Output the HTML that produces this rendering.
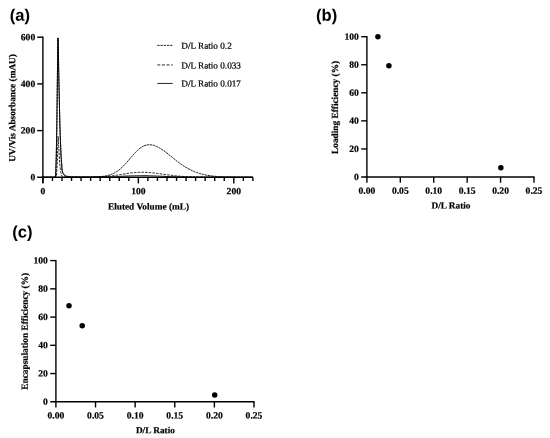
<!DOCTYPE html>
<html lang="en"><head><meta charset="utf-8"><title>Figure</title>
<style>
html,body{margin:0;padding:0;background:#fff;}
body{width:550px;height:438px;overflow:hidden;}
svg{display:block;will-change:transform;}
.ax path{stroke:#000;stroke-width:1.4;fill:none;}
.tk{font-family:"Liberation Serif",serif;font-weight:bold;font-size:9.6px;fill:#000;stroke:#000;stroke-width:0.2px;}
.lb{font-family:"Liberation Serif",serif;font-weight:bold;font-size:9.3px;fill:#000;stroke:#000;stroke-width:0.2px;}
.lg{font-family:"Liberation Serif",serif;font-size:9.2px;fill:#000;stroke:#000;stroke-width:0.22px;}
.pn{font-family:"Liberation Sans",sans-serif;font-weight:bold;font-size:16.6px;fill:#000;}
.cv path{stroke:#000;fill:none;stroke-width:1.05;stroke-linejoin:round;}
.lgl path{stroke-width:0.85;}
</style></head><body>
<svg width="550" height="438" viewBox="0 0 550 438">
<rect width="550" height="438" fill="#fff"/>
<!-- panel labels -->
<text class="pn" x="9.8" y="20.8" transform="rotate(0.03 9.8 20.8)">(a)</text>
<text class="pn" x="316" y="20.7" transform="rotate(0.03 316 20.7)">(b)</text>
<text class="pn" x="12.3" y="237.6" transform="rotate(0.03 12.3 237.6)">(c)</text>

<!-- panel a -->
<g class="ax">
<path d="M42.9,36.600000000000016 V183.0" />
<path d="M37.199999999999996,177.3 H252.89000000000001" />
<path d="M37.199999999999996,130.60 H42.9" />
<path d="M37.199999999999996,83.90 H42.9" />
<path d="M37.199999999999996,37.20 H42.9" />
<path d="M42.90,177.3 v6.1" />
<path d="M52.45,177.3 v3.6" />
<path d="M61.99,177.3 v3.6" />
<path d="M71.53,177.3 v3.6" />
<path d="M81.08,177.3 v3.6" />
<path d="M90.62,177.3 v3.6" />
<path d="M100.17,177.3 v3.6" />
<path d="M109.72,177.3 v3.6" />
<path d="M119.26,177.3 v3.6" />
<path d="M128.81,177.3 v3.6" />
<path d="M138.35,177.3 v6.1" />
<path d="M147.90,177.3 v3.6" />
<path d="M157.44,177.3 v3.6" />
<path d="M166.99,177.3 v3.6" />
<path d="M176.53,177.3 v3.6" />
<path d="M186.08,177.3 v3.6" />
<path d="M195.62,177.3 v3.6" />
<path d="M205.17,177.3 v3.6" />
<path d="M214.71,177.3 v3.6" />
<path d="M224.25,177.3 v3.6" />
<path d="M233.80,177.3 v6.1" />
<path d="M243.34,177.3 v3.6" />
<path d="M252.89,177.3 v3.6" />
</g>
<g class="cv">
<path d="M42.90,177.28 L43.09,177.28 L43.28,177.28 L43.47,177.28 L43.66,177.28 L43.85,177.28 L44.05,177.28 L44.24,177.28 L44.43,177.28 L44.62,177.28 L44.81,177.28 L45.00,177.28 L45.19,177.28 L45.38,177.28 L45.57,177.28 L45.76,177.28 L45.95,177.28 L46.15,177.28 L46.34,177.28 L46.53,177.28 L46.72,177.28 L46.91,177.28 L47.10,177.28 L47.29,177.28 L47.48,177.28 L47.67,177.28 L47.86,177.28 L48.05,177.28 L48.25,177.28 L48.44,177.28 L48.63,177.28 L48.82,177.27 L49.01,177.27 L49.20,177.27 L49.39,177.27 L49.58,177.27 L49.77,177.27 L49.96,177.27 L50.15,177.27 L50.35,177.27 L50.54,177.27 L50.73,177.27 L50.92,177.27 L51.11,177.27 L51.30,177.27 L51.49,177.27 L51.68,177.27 L51.87,177.27 L52.06,177.27 L52.25,177.27 L52.45,177.27 L52.64,177.27 L52.83,177.27 L53.02,177.27 L53.21,177.27 L53.40,177.27 L53.59,177.27 L53.78,177.27 L53.97,177.27 L54.16,177.26 L54.35,177.26 L54.54,177.26 L54.74,177.26 L54.93,177.15 L55.12,176.91 L55.31,176.68 L55.50,175.93 L55.69,174.07 L55.88,169.70 L56.07,163.21 L56.26,156.71 L56.45,147.03 L56.64,137.35 L56.84,125.93 L57.03,109.27 L57.22,92.61 L57.41,75.82 L57.60,58.61 L57.79,45.99 L57.98,37.96 L58.17,43.24 L58.36,50.00 L58.55,61.36 L58.74,72.73 L58.94,83.06 L59.13,91.45 L59.32,99.85 L59.51,108.25 L59.70,116.65 L59.89,125.05 L60.08,131.99 L60.27,136.74 L60.46,141.50 L60.65,146.25 L60.84,151.01 L61.04,155.77 L61.23,158.40 L61.42,161.04 L61.61,163.68 L61.80,166.31 L61.99,168.95 L62.18,170.43 L62.37,171.14 L62.56,171.85 L62.75,172.56 L62.94,173.27 L63.14,173.57 L63.33,173.87 L63.52,174.16 L63.71,174.46 L63.90,174.76 L64.09,174.97 L64.28,175.09 L64.47,175.21 L64.66,175.33 L64.85,175.46 L65.04,175.58 L65.24,175.70 L65.43,175.82 L65.62,175.94 L65.81,176.07 L66.00,176.11 L66.19,176.15 L66.38,176.20 L66.57,176.24 L66.76,176.28 L66.95,176.32 L67.14,176.37 L67.34,176.41 L67.53,176.45 L67.72,176.50 L67.91,176.54 L68.10,176.58 L68.29,176.63 L68.48,176.67 L68.67,176.71 L68.86,176.72 L69.05,176.74 L69.24,176.75 L69.44,176.76 L69.63,176.77 L69.82,176.79 L70.01,176.80 L70.20,176.81 L70.39,176.82 L70.58,176.84 L70.77,176.85 L70.96,176.86 L71.15,176.87 L71.34,176.89 L71.53,176.90 L72.49,176.96 L73.44,177.02 L74.40,177.04 L75.35,177.06 L76.31,177.08 L77.26,177.10 L78.22,177.12 L79.17,177.14 L80.13,177.16 L81.08,177.18 L82.03,177.17 L82.99,177.17 L83.94,177.17 L84.90,177.16 L85.85,177.16 L86.81,177.15 L87.76,177.15 L88.72,177.14 L89.67,177.14 L90.62,177.13 L91.58,177.13 L92.53,177.12 L93.49,177.11 L94.44,177.11 L95.40,177.10 L96.35,177.09 L97.31,177.08 L98.26,177.07 L99.22,177.06 L100.17,177.05 L101.12,177.03 L102.08,177.02 L103.03,177.00 L103.99,176.98 L104.94,176.96 L105.90,176.94 L106.85,176.92 L107.81,176.89 L108.76,176.86 L109.72,176.83 L110.67,176.80 L111.62,176.76 L112.58,176.73 L113.53,176.69 L114.49,176.64 L115.44,176.60 L116.40,176.56 L117.35,176.51 L118.31,176.46 L119.26,176.41 L120.21,176.36 L121.17,176.31 L122.12,176.26 L123.08,176.21 L124.03,176.15 L124.99,176.10 L125.94,176.05 L126.90,176.01 L127.85,175.96 L128.81,175.92 L129.76,175.87 L130.71,175.83 L131.67,175.80 L132.62,175.76 L133.58,175.73 L134.53,175.71 L135.49,175.68 L136.44,175.67 L137.40,175.65 L138.35,175.64 L139.30,175.63 L140.26,175.62 L141.21,175.62 L142.17,175.62 L143.12,175.63 L144.08,175.63 L145.03,175.64 L145.99,175.66 L146.94,175.67 L147.90,175.69 L148.85,175.72 L149.80,175.74 L150.76,175.77 L151.71,175.80 L152.67,175.84 L153.62,175.87 L154.58,175.91 L155.53,175.95 L156.49,175.99 L157.44,176.03 L158.39,176.08 L159.35,176.12 L160.30,176.17 L161.26,176.21 L162.21,176.26 L163.17,176.30 L164.12,176.35 L165.08,176.39 L166.03,176.44 L166.99,176.48 L167.94,176.52 L168.89,176.57 L169.85,176.61 L170.80,176.65 L171.76,176.69 L172.71,176.72 L173.67,176.76 L174.62,176.79 L175.58,176.83 L176.53,176.86 L177.48,176.89 L178.44,176.91 L179.39,176.94 L180.35,176.97 L181.30,176.99 L182.26,177.01 L183.21,177.03 L184.17,177.05 L185.12,177.07 L186.08,177.09 L187.03,177.10 L187.98,177.12 L188.94,177.13 L189.89,177.14 L190.85,177.15 L191.80,177.16 L192.76,177.17 L193.71,177.18 L194.67,177.19 L195.62,177.20 L196.57,177.20 L197.53,177.21 L198.48,177.21 L199.44,177.22 L200.39,177.22 L201.35,177.23 L202.30,177.23 L203.26,177.24 L204.21,177.24 L205.17,177.24 L206.12,177.25 L207.07,177.25 L208.03,177.25 L208.98,177.25 L209.94,177.25 L210.89,177.26 L211.85,177.26 L212.80,177.26 L213.76,177.26 L214.71,177.26 L215.66,177.26 L216.62,177.27 L217.57,177.27 L218.53,177.27 L219.48,177.27 L220.44,177.27 L221.39,177.27 L222.35,177.27 L223.30,177.27 L224.25,177.27 L225.21,177.28 L226.16,177.28 L227.12,177.28 L228.07,177.28 L229.03,177.28 L229.98,177.28 L230.94,177.28 L231.89,177.28 L232.85,177.28 L233.80,177.28 L234.75,177.28 L235.71,177.28 L236.66,177.28 L237.62,177.28 L238.57,177.29 L239.53,177.29 L240.48,177.29 L241.44,177.29 L242.39,177.29 L243.34,177.29 L244.30,177.29 L245.25,177.29 L246.21,177.29 L247.16,177.29 L248.12,177.29 L249.07,177.29 L250.03,177.29 L250.98,177.29 L251.94,177.29 L252.89,177.29" style="stroke-width:0.9"/>
<path d="M42.90,177.28 L43.09,177.27 L43.28,177.27 L43.47,177.27 L43.66,177.27 L43.85,177.27 L44.05,177.27 L44.24,177.27 L44.43,177.27 L44.62,177.27 L44.81,177.27 L45.00,177.27 L45.19,177.27 L45.38,177.27 L45.57,177.27 L45.76,177.27 L45.95,177.27 L46.15,177.27 L46.34,177.27 L46.53,177.27 L46.72,177.27 L46.91,177.27 L47.10,177.27 L47.29,177.27 L47.48,177.27 L47.67,177.27 L47.86,177.26 L48.05,177.26 L48.25,177.26 L48.44,177.26 L48.63,177.26 L48.82,177.26 L49.01,177.26 L49.20,177.26 L49.39,177.26 L49.58,177.26 L49.77,177.26 L49.96,177.26 L50.15,177.26 L50.35,177.26 L50.54,177.26 L50.73,177.26 L50.92,177.26 L51.11,177.26 L51.30,177.26 L51.49,177.26 L51.68,177.25 L51.87,177.25 L52.06,177.25 L52.25,177.25 L52.45,177.25 L52.64,177.25 L52.83,177.25 L53.02,177.25 L53.21,177.25 L53.40,177.25 L53.59,177.25 L53.78,177.25 L53.97,177.25 L54.16,177.25 L54.35,177.25 L54.54,177.25 L54.74,177.25 L54.93,177.24 L55.12,177.24 L55.31,177.24 L55.50,177.24 L55.69,177.24 L55.88,177.16 L56.07,177.07 L56.26,176.75 L56.45,175.61 L56.64,173.44 L56.84,170.89 L57.03,167.27 L57.22,163.65 L57.41,157.54 L57.60,151.31 L57.79,144.96 L57.98,139.37 L58.17,136.37 L58.36,138.90 L58.55,142.32 L58.74,146.57 L58.94,150.32 L59.13,153.46 L59.32,156.59 L59.51,159.73 L59.70,162.87 L59.89,164.91 L60.08,166.69 L60.27,168.47 L60.46,170.24 L60.65,171.55 L60.84,172.53 L61.04,173.52 L61.23,174.50 L61.42,175.21 L61.61,175.48 L61.80,175.74 L61.99,176.01 L62.18,176.15 L62.37,176.26 L62.56,176.37 L62.75,176.48 L62.94,176.56 L63.14,176.60 L63.33,176.65 L63.52,176.69 L63.71,176.74 L63.90,176.78 L64.09,176.83 L64.28,176.87 L64.47,176.88 L64.66,176.90 L64.85,176.92 L65.04,176.93 L65.24,176.95 L65.43,176.96 L65.62,176.98 L65.81,176.99 L66.00,177.01 L66.19,177.02 L66.38,177.04 L66.57,177.05 L66.76,177.05 L66.95,177.06 L67.14,177.06 L67.34,177.07 L67.53,177.07 L67.72,177.07 L67.91,177.08 L68.10,177.08 L68.29,177.09 L68.48,177.09 L68.67,177.09 L68.86,177.10 L69.05,177.10 L69.24,177.11 L69.44,177.11 L69.63,177.11 L69.82,177.12 L70.01,177.12 L70.20,177.12 L70.39,177.13 L70.58,177.13 L70.77,177.13 L70.96,177.13 L71.15,177.13 L71.34,177.13 L71.53,177.13 L72.49,177.13 L73.44,177.14 L74.40,177.14 L75.35,177.14 L76.31,177.15 L77.26,177.14 L78.22,177.13 L79.17,177.13 L80.13,177.12 L81.08,177.12 L82.03,177.11 L82.99,177.10 L83.94,177.10 L84.90,177.09 L85.85,177.08 L86.81,177.07 L87.76,177.06 L88.72,177.05 L89.67,177.04 L90.62,177.03 L91.58,177.02 L92.53,177.00 L93.49,176.98 L94.44,176.97 L95.40,176.94 L96.35,176.92 L97.31,176.89 L98.26,176.87 L99.22,176.83 L100.17,176.80 L101.12,176.75 L102.08,176.71 L103.03,176.66 L103.99,176.60 L104.94,176.54 L105.90,176.47 L106.85,176.39 L107.81,176.31 L108.76,176.22 L109.72,176.13 L110.67,176.02 L111.62,175.91 L112.58,175.80 L113.53,175.67 L114.49,175.54 L115.44,175.40 L116.40,175.26 L117.35,175.11 L118.31,174.96 L119.26,174.80 L120.21,174.64 L121.17,174.48 L122.12,174.31 L123.08,174.15 L124.03,173.99 L124.99,173.83 L125.94,173.67 L126.90,173.51 L127.85,173.37 L128.81,173.22 L129.76,173.09 L130.71,172.96 L131.67,172.85 L132.62,172.74 L133.58,172.64 L134.53,172.56 L135.49,172.48 L136.44,172.42 L137.40,172.37 L138.35,172.33 L139.30,172.30 L140.26,172.28 L141.21,172.28 L142.17,172.27 L143.12,172.28 L144.08,172.30 L145.03,172.33 L145.99,172.36 L146.94,172.41 L147.90,172.46 L148.85,172.53 L149.80,172.60 L150.76,172.68 L151.71,172.77 L152.67,172.86 L153.62,172.97 L154.58,173.07 L155.53,173.19 L156.49,173.31 L157.44,173.43 L158.39,173.55 L159.35,173.68 L160.30,173.81 L161.26,173.95 L162.21,174.08 L163.17,174.22 L164.12,174.35 L165.08,174.48 L166.03,174.62 L166.99,174.75 L167.94,174.88 L168.89,175.01 L169.85,175.13 L170.80,175.25 L171.76,175.37 L172.71,175.49 L173.67,175.60 L174.62,175.70 L175.58,175.81 L176.53,175.90 L177.48,176.00 L178.44,176.09 L179.39,176.17 L180.35,176.25 L181.30,176.33 L182.26,176.40 L183.21,176.47 L184.17,176.53 L185.12,176.59 L186.08,176.65 L187.03,176.70 L187.98,176.75 L188.94,176.79 L189.89,176.83 L190.85,176.87 L191.80,176.91 L192.76,176.94 L193.71,176.97 L194.67,177.00 L195.62,177.02 L196.57,177.04 L197.53,177.07 L198.48,177.08 L199.44,177.10 L200.39,177.12 L201.35,177.13 L202.30,177.14 L203.26,177.16 L204.21,177.17 L205.17,177.18 L206.12,177.19 L207.07,177.19 L208.03,177.20 L208.98,177.21 L209.94,177.21 L210.89,177.22 L211.85,177.22 L212.80,177.23 L213.76,177.23 L214.71,177.24 L215.66,177.24 L216.62,177.24 L217.57,177.24 L218.53,177.25 L219.48,177.25 L220.44,177.25 L221.39,177.25 L222.35,177.26 L223.30,177.26 L224.25,177.26 L225.21,177.26 L226.16,177.26 L227.12,177.26 L228.07,177.27 L229.03,177.27 L229.98,177.27 L230.94,177.27 L231.89,177.27 L232.85,177.27 L233.80,177.27 L234.75,177.27 L235.71,177.27 L236.66,177.28 L237.62,177.28 L238.57,177.28 L239.53,177.28 L240.48,177.28 L241.44,177.28 L242.39,177.28 L243.34,177.28 L244.30,177.28 L245.25,177.28 L246.21,177.28 L247.16,177.28 L248.12,177.28 L249.07,177.29 L250.03,177.29 L250.98,177.29 L251.94,177.29 L252.89,177.29" stroke-dasharray="2.5 1.2" style="stroke-width:0.9"/>
<path d="M42.90,177.28 L43.09,177.27 L43.28,177.27 L43.47,177.27 L43.66,177.27 L43.85,177.27 L44.05,177.27 L44.24,177.27 L44.43,177.27 L44.62,177.27 L44.81,177.27 L45.00,177.27 L45.19,177.27 L45.38,177.27 L45.57,177.27 L45.76,177.27 L45.95,177.27 L46.15,177.27 L46.34,177.27 L46.53,177.27 L46.72,177.27 L46.91,177.27 L47.10,177.27 L47.29,177.27 L47.48,177.27 L47.67,177.27 L47.86,177.26 L48.05,177.26 L48.25,177.26 L48.44,177.26 L48.63,177.26 L48.82,177.26 L49.01,177.26 L49.20,177.26 L49.39,177.26 L49.58,177.26 L49.77,177.26 L49.96,177.26 L50.15,177.26 L50.35,177.26 L50.54,177.26 L50.73,177.26 L50.92,177.26 L51.11,177.26 L51.30,177.26 L51.49,177.26 L51.68,177.25 L51.87,177.25 L52.06,177.25 L52.25,177.25 L52.45,177.25 L52.64,177.25 L52.83,177.25 L53.02,177.25 L53.21,177.25 L53.40,177.25 L53.59,177.25 L53.78,177.25 L53.97,177.25 L54.16,177.25 L54.35,177.25 L54.54,177.25 L54.74,177.25 L54.93,177.13 L55.12,176.89 L55.31,176.66 L55.50,175.91 L55.69,174.05 L55.88,169.68 L56.07,163.19 L56.26,156.69 L56.45,147.01 L56.64,137.33 L56.84,125.91 L57.03,109.25 L57.22,92.59 L57.41,75.80 L57.60,58.58 L57.79,45.96 L57.98,37.94 L58.17,43.22 L58.36,49.98 L58.55,61.34 L58.74,72.71 L58.94,83.03 L59.13,91.43 L59.32,99.83 L59.51,108.23 L59.70,116.62 L59.89,125.02 L60.08,131.96 L60.27,136.72 L60.46,141.47 L60.65,146.23 L60.84,150.98 L61.04,155.74 L61.23,158.38 L61.42,161.01 L61.61,163.65 L61.80,166.29 L61.99,168.92 L62.18,170.41 L62.37,171.12 L62.56,171.83 L62.75,172.54 L62.94,173.24 L63.14,173.54 L63.33,173.84 L63.52,174.13 L63.71,174.43 L63.90,174.73 L64.09,174.94 L64.28,175.06 L64.47,175.18 L64.66,175.30 L64.85,175.42 L65.04,175.55 L65.24,175.67 L65.43,175.79 L65.62,175.91 L65.81,176.03 L66.00,176.08 L66.19,176.12 L66.38,176.16 L66.57,176.20 L66.76,176.25 L66.95,176.29 L67.14,176.33 L67.34,176.38 L67.53,176.42 L67.72,176.46 L67.91,176.50 L68.10,176.55 L68.29,176.59 L68.48,176.63 L68.67,176.67 L68.86,176.69 L69.05,176.70 L69.24,176.71 L69.44,176.72 L69.63,176.73 L69.82,176.75 L70.01,176.76 L70.20,176.77 L70.39,176.78 L70.58,176.79 L70.77,176.81 L70.96,176.82 L71.15,176.83 L71.34,176.84 L71.53,176.86 L72.49,176.92 L73.44,176.98 L74.40,176.99 L75.35,177.01 L76.31,177.03 L77.26,177.05 L78.22,177.07 L79.17,177.08 L80.13,177.10 L81.08,177.12 L82.03,177.11 L82.99,177.10 L83.94,177.10 L84.90,177.09 L85.85,177.08 L86.81,177.07 L87.76,177.06 L88.72,177.05 L89.67,177.04 L90.62,177.03 L91.58,177.01 L92.53,176.99 L93.49,176.97 L94.44,176.94 L95.40,176.91 L96.35,176.88 L97.31,176.83 L98.26,176.78 L99.22,176.72 L100.17,176.65 L101.12,176.57 L102.08,176.48 L103.03,176.36 L103.99,176.23 L104.94,176.08 L105.90,175.91 L106.85,175.72 L107.81,175.49 L108.76,175.24 L109.72,174.95 L110.67,174.62 L111.62,174.26 L112.58,173.86 L113.53,173.42 L114.49,172.92 L115.44,172.39 L116.40,171.80 L117.35,171.16 L118.31,170.48 L119.26,169.74 L120.21,168.95 L121.17,168.11 L122.12,167.23 L123.08,166.30 L124.03,165.33 L124.99,164.32 L125.94,163.28 L126.90,162.21 L127.85,161.12 L128.81,160.01 L129.76,158.89 L130.71,157.77 L131.67,156.65 L132.62,155.54 L133.58,154.46 L134.53,153.40 L135.49,152.38 L136.44,151.40 L137.40,150.48 L138.35,149.60 L139.30,148.79 L140.26,148.05 L141.21,147.38 L142.17,146.78 L143.12,146.26 L144.08,145.82 L145.03,145.46 L145.99,145.18 L146.94,144.97 L147.90,144.83 L148.85,144.76 L149.80,144.74 L150.76,144.79 L151.71,144.91 L152.67,145.10 L153.62,145.35 L154.58,145.65 L155.53,146.00 L156.49,146.41 L157.44,146.86 L158.39,147.35 L159.35,147.88 L160.30,148.45 L161.26,149.05 L162.21,149.68 L163.17,150.34 L164.12,151.02 L165.08,151.72 L166.03,152.44 L166.99,153.17 L167.94,153.92 L168.89,154.68 L169.85,155.44 L170.80,156.21 L171.76,156.98 L172.71,157.75 L173.67,158.51 L174.62,159.27 L175.58,160.02 L176.53,160.77 L177.48,161.50 L178.44,162.22 L179.39,162.93 L180.35,163.62 L181.30,164.30 L182.26,164.96 L183.21,165.60 L184.17,166.22 L185.12,166.82 L186.08,167.40 L187.03,167.96 L187.98,168.51 L188.94,169.03 L189.89,169.52 L190.85,170.00 L191.80,170.46 L192.76,170.90 L193.71,171.31 L194.67,171.71 L195.62,172.08 L196.57,172.44 L197.53,172.78 L198.48,173.10 L199.44,173.40 L200.39,173.68 L201.35,173.95 L202.30,174.20 L203.26,174.44 L204.21,174.66 L205.17,174.86 L206.12,175.06 L207.07,175.23 L208.03,175.40 L208.98,175.56 L209.94,175.70 L210.89,175.84 L211.85,175.96 L212.80,176.08 L213.76,176.18 L214.71,176.28 L215.66,176.37 L216.62,176.45 L217.57,176.53 L218.53,176.60 L219.48,176.66 L220.44,176.72 L221.39,176.78 L222.35,176.83 L223.30,176.87 L224.25,176.91 L225.21,176.95 L226.16,176.98 L227.12,177.01 L228.07,177.04 L229.03,177.07 L229.98,177.09 L230.94,177.11 L231.89,177.13 L232.85,177.14 L233.80,177.16 L234.75,177.17 L235.71,177.19 L236.66,177.20 L237.62,177.21 L238.57,177.22 L239.53,177.22 L240.48,177.23 L241.44,177.24 L242.39,177.24 L243.34,177.25 L244.30,177.25 L245.25,177.26 L246.21,177.26 L247.16,177.27 L248.12,177.27 L249.07,177.27 L250.03,177.27 L250.98,177.28 L251.94,177.28 L252.89,177.28" stroke-dasharray="2.3 0.7" style="stroke-width:0.95"/>
</g>
<g class="tk">
<text x="35.2" y="180.30" transform="rotate(0.03 35.2 180.30)" text-anchor="end">0</text>
<text x="35.2" y="133.60" transform="rotate(0.03 35.2 133.60)" text-anchor="end">200</text>
<text x="35.2" y="86.90" transform="rotate(0.03 35.2 86.90)" text-anchor="end">400</text>
<text x="35.2" y="40.20" transform="rotate(0.03 35.2 40.20)" text-anchor="end">600</text>
<text x="42.90" y="194.3" transform="rotate(0.03 42.90 194.3)" text-anchor="middle">0</text>
<text x="138.35" y="194.3" transform="rotate(0.03 138.35 194.3)" text-anchor="middle">100</text>
<text x="233.80" y="194.3" transform="rotate(0.03 233.80 194.3)" text-anchor="middle">200</text>
</g>
<text class="lb" x="148.5" y="209.5" text-anchor="middle" transform="rotate(0.03 148.5 209.5)">Eluted Volume (mL)</text>
<text class="lb" transform="translate(15.3,107.9) rotate(-90.03)" text-anchor="middle">UV/Vis Absorbance (mAU)</text>
<g class="cv lgl">
<path d="M157.3,45.4 H172.7" stroke-dasharray="2.3 0.9"/>
<path d="M157.3,64.95 H172.7" stroke-dasharray="3 1.6"/>
<path d="M157.3,83.45 H172.7"/>
</g>
<g class="lg">
<text x="181.3" y="48.8" transform="rotate(0.03 181.3 48.8)">D/L Ratio 0.2</text>
<text x="181.3" y="68.5" transform="rotate(0.03 181.3 68.5)">D/L Ratio 0.033</text>
<text x="181.3" y="86.6" transform="rotate(0.03 181.3 86.6)">D/L Ratio 0.017</text>
</g>

<!-- panel b -->
<g class="ax">
<path d="M366.9,36.1 V182.7" />
<path d="M361.2,177.0 H534.6" />
<path d="M361.2,148.94 H366.9" />
<path d="M361.2,120.88 H366.9" />
<path d="M361.2,92.82 H366.9" />
<path d="M361.2,64.76 H366.9" />
<path d="M361.2,36.70 H366.9" />
<path d="M400.32,177.0 v5.7" />
<path d="M433.74,177.0 v5.7" />
<path d="M467.16,177.0 v5.7" />
<path d="M500.58,177.0 v5.7" />
<path d="M534.00,177.0 v5.7" />
</g>
<g class="tk">
<text x="358.8" y="180.00" transform="rotate(0.03 358.8 180.00)" text-anchor="end">0</text>
<text x="358.8" y="151.94" transform="rotate(0.03 358.8 151.94)" text-anchor="end">20</text>
<text x="358.8" y="123.88" transform="rotate(0.03 358.8 123.88)" text-anchor="end">40</text>
<text x="358.8" y="95.82" transform="rotate(0.03 358.8 95.82)" text-anchor="end">60</text>
<text x="358.8" y="67.76" transform="rotate(0.03 358.8 67.76)" text-anchor="end">80</text>
<text x="358.8" y="39.70" transform="rotate(0.03 358.8 39.70)" text-anchor="end">100</text>
<text x="366.90" y="193.8" transform="rotate(0.03 366.90 193.8)" text-anchor="middle">0.00</text>
<text x="400.32" y="193.8" transform="rotate(0.03 400.32 193.8)" text-anchor="middle">0.05</text>
<text x="433.74" y="193.8" transform="rotate(0.03 433.74 193.8)" text-anchor="middle">0.10</text>
<text x="467.16" y="193.8" transform="rotate(0.03 467.16 193.8)" text-anchor="middle">0.15</text>
<text x="500.58" y="193.8" transform="rotate(0.03 500.58 193.8)" text-anchor="middle">0.20</text>
<text x="534.00" y="193.8" transform="rotate(0.03 534.00 193.8)" text-anchor="middle">0.25</text>
</g>
<text class="lb" x="451" y="208.6" text-anchor="middle" transform="rotate(0.03 451 208.6)">D/L Ratio</text>
<text class="lb" transform="translate(338.0,107.4) rotate(-90.03)" text-anchor="middle">Loading Efficiency (%)</text>

<!-- panel c -->
<g class="ax">
<path d="M55.9,260.0 V407.5" />
<path d="M50.199999999999996,401.8 H254.6" />
<path d="M50.199999999999996,373.56 H55.9" />
<path d="M50.199999999999996,345.32 H55.9" />
<path d="M50.199999999999996,317.08 H55.9" />
<path d="M50.199999999999996,288.84 H55.9" />
<path d="M50.199999999999996,260.60 H55.9" />
<path d="M95.52,401.8 v5.7" />
<path d="M135.14,401.8 v5.7" />
<path d="M174.76,401.8 v5.7" />
<path d="M214.38,401.8 v5.7" />
<path d="M254.00,401.8 v5.7" />
</g>
<g class="tk">
<text x="47.9" y="404.80" transform="rotate(0.03 47.9 404.80)" text-anchor="end">0</text>
<text x="47.9" y="376.56" transform="rotate(0.03 47.9 376.56)" text-anchor="end">20</text>
<text x="47.9" y="348.32" transform="rotate(0.03 47.9 348.32)" text-anchor="end">40</text>
<text x="47.9" y="320.08" transform="rotate(0.03 47.9 320.08)" text-anchor="end">60</text>
<text x="47.9" y="291.84" transform="rotate(0.03 47.9 291.84)" text-anchor="end">80</text>
<text x="47.9" y="263.60" transform="rotate(0.03 47.9 263.60)" text-anchor="end">100</text>
<text x="55.90" y="418.6" transform="rotate(0.03 55.90 418.6)" text-anchor="middle">0.00</text>
<text x="95.52" y="418.6" transform="rotate(0.03 95.52 418.6)" text-anchor="middle">0.05</text>
<text x="135.14" y="418.6" transform="rotate(0.03 135.14 418.6)" text-anchor="middle">0.10</text>
<text x="174.76" y="418.6" transform="rotate(0.03 174.76 418.6)" text-anchor="middle">0.15</text>
<text x="214.38" y="418.6" transform="rotate(0.03 214.38 418.6)" text-anchor="middle">0.20</text>
<text x="254.00" y="418.6" transform="rotate(0.03 254.00 418.6)" text-anchor="middle">0.25</text>
</g>
<text class="lb" x="155.4" y="433.2" text-anchor="middle" transform="rotate(0.03 155.4 433.2)">D/L Ratio</text>
<text class="lb" transform="translate(27.7,331.3) rotate(-90.03)" text-anchor="middle">Encapsulation Efficiency (%)</text>

<g fill="#000">
<circle cx="377.90" cy="36.70" r="2.75"/>
<circle cx="388.90" cy="65.80" r="2.75"/>
<circle cx="500.85" cy="167.70" r="2.75"/>
<circle cx="69.00" cy="305.70" r="2.75"/>
<circle cx="82.20" cy="325.80" r="2.75"/>
<circle cx="214.70" cy="395.00" r="2.75"/>
</g>
</svg>
</body></html>
